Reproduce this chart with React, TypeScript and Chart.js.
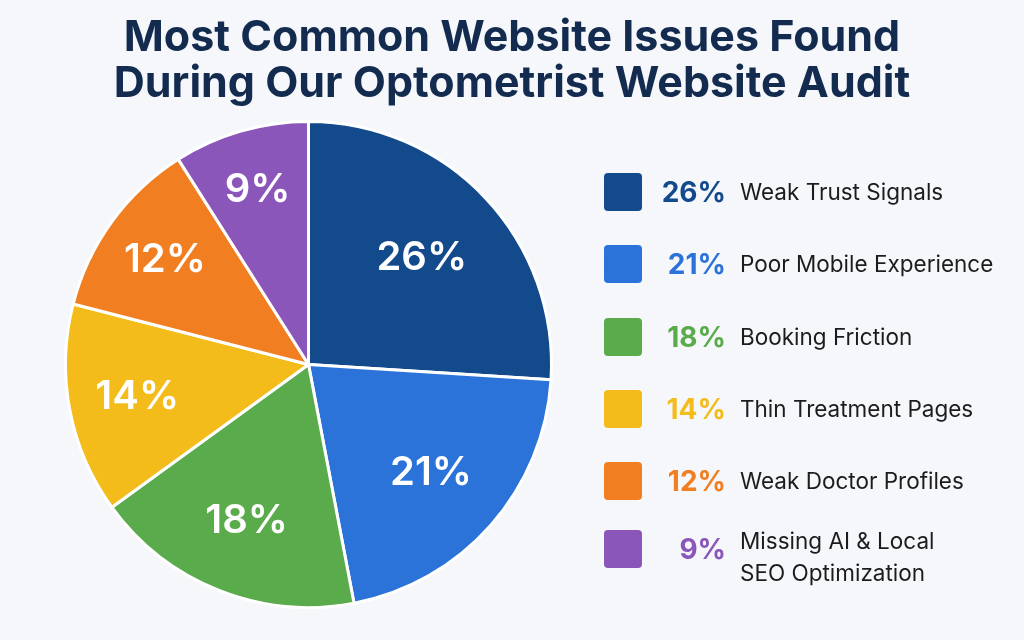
import React, { useEffect, useRef } from "react";
import { Chart, registerables } from "chart.js";

Chart.register(...registerables);

const titleLines = [
  "Most Common Website Issues Found",
  "During Our Optometrist Website Audit",
];
const issueLabels = [
  "Weak Trust Signals",
  "Poor Mobile Experience",
  "Booking Friction",
  "Thin Treatment Pages",
  "Weak Doctor Profiles",
  "Missing AI & Local SEO Optimization",
];
const legendLines = [
  ["Weak Trust Signals"],
  ["Poor Mobile Experience"],
  ["Booking Friction"],
  ["Thin Treatment Pages"],
  ["Weak Doctor Profiles"],
  ["Missing AI & Local", "SEO Optimization"],
];
const issueShares = [26, 21, 18, 14, 12, 9];
const sliceColors = ["#124a8c", "#2b73d8", "#5aab4b", "#f3bc1b", "#f17f22", "#8a56ba"];

const FONT = "Inter, 'Open Sans', sans-serif";

// Writes each slice's percentage in white inside its wedge
const sliceLabelPlugin = {
  id: "sliceLabels",
  afterDatasetsDraw(chart: any) {
    const { ctx } = chart;
    const meta = chart.getDatasetMeta(0);
    const values = chart.data.datasets[0].data as number[];
    ctx.save();
    ctx.fillStyle = "#ffffff";
    ctx.font = `600 40px ${FONT}`;
    ctx.textAlign = "center";
    ctx.textBaseline = "middle";
    meta.data.forEach((arc: any, i: number) => {
      const { x, y, startAngle, endAngle, outerRadius } = arc.getProps(
        ["x", "y", "startAngle", "endAngle", "outerRadius"],
        true
      );
      const mid = (startAngle + endAngle) / 2;
      const v = values[i];
      // smaller wedges push their label further out toward the rim
      const k = 0.75 - (v - 9) * 0.0065;
      const r = outerRadius * k;
      ctx.fillText(`${v}%`, x + Math.cos(mid) * r, y + Math.sin(mid) * r);
    });
    ctx.restore();
  },
};

export default function App() {
  const canvasRef = useRef<HTMLCanvasElement | null>(null);

  useEffect(() => {
    document.body.style.margin = "0";
    const canvas = canvasRef.current;
    if (!canvas) return;
    const chart = new Chart(canvas, {
      type: "pie",
      data: {
        labels: issueLabels,
        datasets: [
          {
            data: issueShares,
            backgroundColor: sliceColors,
            borderColor: "#ffffff",
            borderWidth: 3,
          },
        ],
      },
      options: {
        animation: false,
        responsive: true,
        maintainAspectRatio: false,
        layout: { padding: { top: 120, left: 64, right: 471, bottom: 31 } },
        plugins: {
          legend: { display: false },
          tooltip: { enabled: false },
          title: { display: false },
        },
      },
      plugins: [sliceLabelPlugin],
    });
    return () => chart.destroy();
  }, []);

  const last = issueShares.length - 1;

  return (
    <div
      style={{
        position: "relative",
        width: 1024,
        height: 640,
        background: "#f5f7fb",
        overflow: "hidden",
        fontFamily: FONT,
      }}
    >
      <div style={{ position: "absolute", inset: 0 }}>
        <canvas ref={canvasRef} />
      </div>
      <div
        style={{
          position: "absolute",
          left: 0,
          top: 12,
          width: 1024,
          textAlign: "center",
          color: "#132b4f",
          fontWeight: 700,
          fontSize: 43,
          lineHeight: "46px",
        }}
      >
        {titleLines.map((t, i) => (
          <div key={i}>{t}</div>
        ))}
      </div>
      {issueShares.map((v, i) => (
        <div
          key={i}
          style={{
            position: "absolute",
            left: 604,
            top: i === last ? 530 : 173 + i * 72.3,
            display: "flex",
            alignItems: i === last ? "flex-start" : "center",
            height: 38,
          }}
        >
          <div
            style={{
              width: 38,
              height: 38,
              borderRadius: 4,
              background: sliceColors[i],
              flex: "none",
            }}
          />
          <div
            style={{
              width: 84,
              height: 38,
              lineHeight: "38px",
              textAlign: "right",
              color: sliceColors[i],
              fontWeight: 700,
              fontSize: 28,
              flex: "none",
            }}
          >
            {v}%
          </div>
          <div
            style={{
              marginLeft: 14,
              marginTop: i === last ? -5 : 0,
              color: "#1c1c1e",
              fontSize: 22.5,
              lineHeight: "32px",
              whiteSpace: "nowrap",
            }}
          >
            {legendLines[i].map((line, j) => (
              <div key={j}>{line}</div>
            ))}
          </div>
        </div>
      ))}
    </div>
  );
}
